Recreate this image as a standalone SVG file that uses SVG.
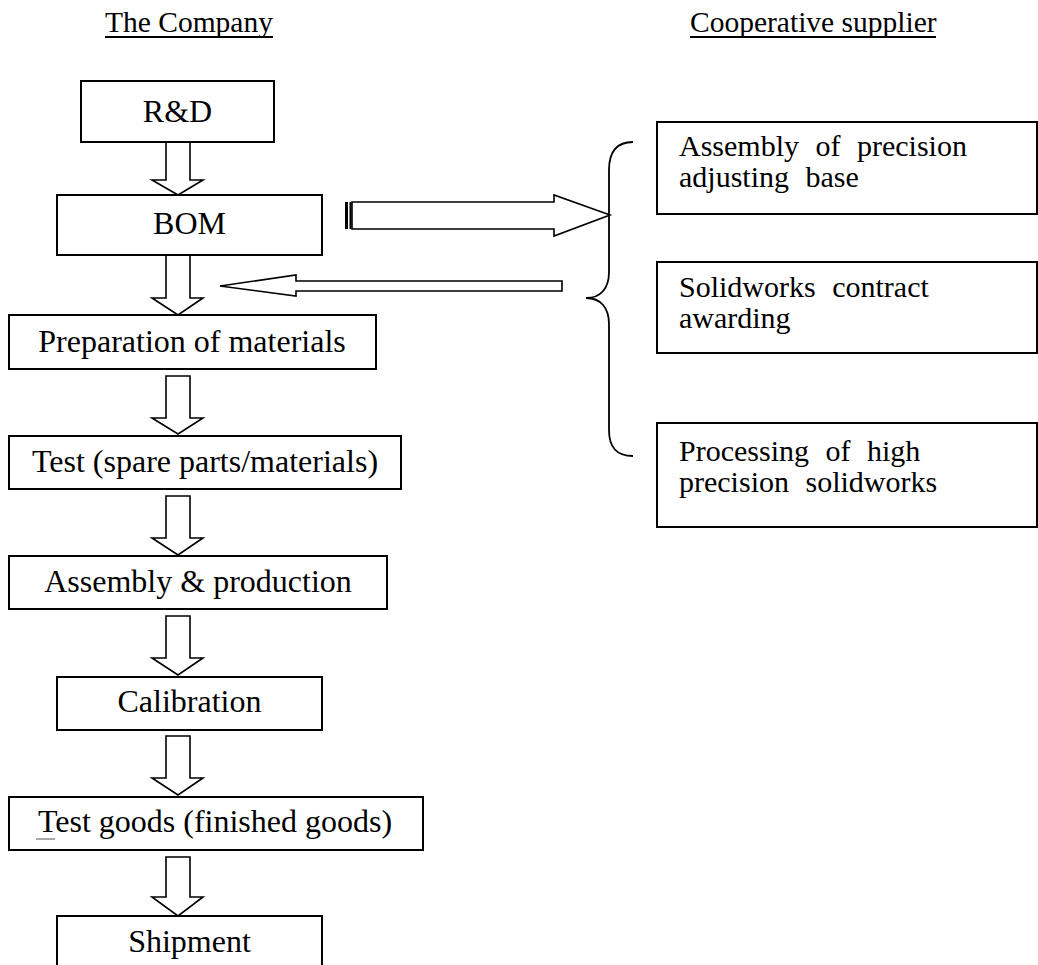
<svg xmlns="http://www.w3.org/2000/svg" width="1038" height="965" viewBox="0 0 1038 965">
  <style>
    .box { fill: #fff; stroke: #000; stroke-width: 2; }
    .arrow { fill: #fff; stroke: #000; stroke-width: 1.6; stroke-linejoin: miter; }
    .brace { fill: none; stroke: #000; stroke-width: 1.8; }
    .lbl { font-family: "Liberation Serif", "Times New Roman", serif; font-size: 32px; fill: #000; }
    .mid { text-anchor: middle; }
    .head { font-family: "Liberation Serif", "Times New Roman", serif; font-size: 29.5px; fill: #000; }
    .ul { stroke: #000; stroke-width: 2; }
    .side { font-family: "Liberation Serif", "Times New Roman", serif; font-size: 30px; word-spacing: 9px; fill: #000; }
  </style>
  <rect width="1038" height="965" fill="#fff"/>

  <!-- column headings -->
  <g id="heading-company">
    <text class="head" x="105" y="32">The Company</text>
    <line class="ul" x1="105" y1="37" x2="273" y2="37"/>
  </g>
  <g id="heading-supplier">
    <text class="head" x="690" y="32">Cooperative supplier</text>
    <line class="ul" x1="690" y1="37" x2="936" y2="37"/>
  </g>

  <!-- connectors -->
  <g id="connectors">
    <path class="arrow" d="M166,142 V180 H152 L178,195 L203,180 H190 V142 Z"/>
    <path class="arrow" d="M166,255 V298 H152 L178,315 L203,298 H190 V255 Z"/>
    <path class="arrow" d="M166,376 V418 H152 L178,434 L203,418 H190 V376 Z"/>
    <path class="arrow" d="M166,496 V538 H152 L178,555 L203,538 H190 V496 Z"/>
    <path class="arrow" d="M166,616 V658 H152 L178,675 L203,658 H190 V616 Z"/>
    <path class="arrow" d="M166,736 V778 H152 L178,795 L203,778 H190 V736 Z"/>
    <path class="arrow" d="M166,857 V897 H152 L178,916 L203,897 H190 V857 Z"/>
    <!-- BOM to suppliers -->
    <path class="arrow" d="M352,202 H554 V195 L610,215 L554,236 V229 H352 Z"/>
    <line x1="346.5" y1="202" x2="346.5" y2="229" stroke="#000" stroke-width="3"/>
    <line x1="350.5" y1="202" x2="350.5" y2="229" stroke="#000" stroke-width="2"/>
    <!-- suppliers back to materials -->
    <path class="arrow" d="M562,281 V291 H296 V296 L220,286 L296,275 V281 Z"/>
    <!-- brace grouping the suppliers -->
    <path class="brace" d="M633,142 C616,142 609,152 609,170 V272 C609,288 601,298 586,298 C601,298 609,308 609,324 V430 C609,447 616,456 633,456"/>
  </g>

  <!-- company process -->
  <g id="node-rd">
    <rect class="box" x="81" y="81" width="193" height="61"/>
    <text class="lbl mid" x="177.5" y="122">R&amp;D</text>
  </g>
  <g id="node-bom">
    <rect class="box" x="57" y="195" width="265" height="60"/>
    <text class="lbl mid" x="189.5" y="234">BOM</text>
  </g>
  <g id="node-preparation">
    <rect class="box" x="9" y="315" width="367" height="54"/>
    <text class="lbl mid" x="192" y="352">Preparation of materials</text>
  </g>
  <g id="node-test-parts">
    <rect class="box" x="9" y="436" width="392" height="53"/>
    <text class="lbl mid" x="205" y="472">Test (spare parts/materials)</text>
  </g>
  <g id="node-assembly">
    <rect class="box" x="9" y="556" width="378" height="53"/>
    <text class="lbl mid" x="198" y="592">Assembly &amp; production</text>
  </g>
  <g id="node-calibration">
    <rect class="box" x="57" y="677" width="265" height="53"/>
    <text class="lbl mid" x="189.5" y="712">Calibration</text>
  </g>
  <g id="node-test-goods">
    <rect class="box" x="9" y="797" width="414" height="53"/>
    <text class="lbl mid" x="215" y="832">Test goods (finished goods)</text>
    <line x1="36" y1="839" x2="55" y2="839" stroke="#555" stroke-width="1"/>
  </g>
  <g id="node-shipment">
    <rect class="box" x="57" y="916" width="265" height="60"/>
    <text class="lbl mid" x="189.5" y="952">Shipment</text>
  </g>

  <!-- cooperative suppliers -->
  <g id="node-adjusting-base">
    <rect class="box" x="657" y="122" width="380" height="92"/>
    <text class="side" x="679" y="156">Assembly of precision</text>
    <text class="side" x="679" y="187">adjusting base</text>
  </g>
  <g id="node-contract">
    <rect class="box" x="657" y="262" width="380" height="91"/>
    <text class="side" x="679" y="297">Solidworks contract</text>
    <text class="side" x="679" y="328">awarding</text>
  </g>
  <g id="node-processing">
    <rect class="box" x="657" y="423" width="380" height="104"/>
    <text class="side" x="679" y="461">Processing of high</text>
    <text class="side" x="679" y="492">precision solidworks</text>
  </g>
</svg>
